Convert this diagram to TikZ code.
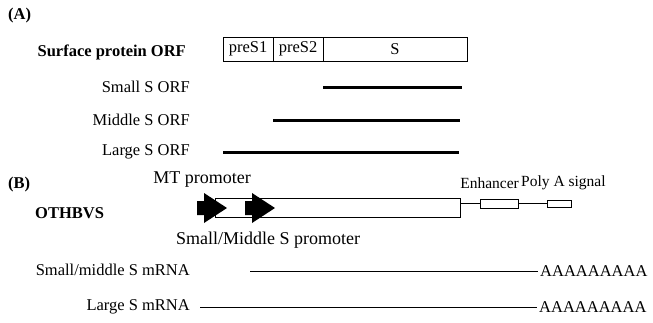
\documentclass[tikz,border=0pt]{standalone}
\usepackage{fontspec}
\setmainfont{Liberation Serif}
\usetikzlibrary{positioning}

\begin{document}
\begin{tikzpicture}[
  x=1pt, y=-1pt,
  font=\fontsize{16.5}{19}\selectfont,
  lbl/.style={inner sep=0pt, anchor=east},
  txt/.style={inner sep=0pt},
  big/.style={inner sep=0pt, font=\fontsize{18}{21}\selectfont},
  small/.style={inner sep=0pt, font=\fontsize{15.5}{18}\selectfont},
  head/.style={inner sep=0pt, anchor=west, font=\fontsize{16.5}{19}\selectfont\bfseries},
  seg/.style={draw, line width=0.9pt, inner sep=0pt, outer sep=0pt, minimum height=24pt},
  feat/.style={draw, line width=0.9pt, inner sep=0pt, outer sep=0pt, minimum height=9pt},
  orfbar/.style={line width=3pt},
  mrna/.style={line width=1pt, shorten >=2pt}
]
\useasboundingbox (0,0) rectangle (653,322);

% (A) surface protein ORFs
\node[head] (parta) at (8,16) {(A)};
\node[lbl, font=\fontsize{16.5}{19}\selectfont\bfseries] (surflbl) at (186,52) {Surface protein ORF};
\node[seg, minimum width=50pt, anchor=west] (pres1) at (223,49) {preS1};
\node[seg, minimum width=50pt, right=0pt of pres1] (pres2) {preS2};
\node[seg, minimum width=144pt, right=0pt of pres2] (sseg) {S};

\node[lbl] (smallorf)  at (190,87)  {Small S ORF};
\node[lbl] (middleorf) at (190,120) {Middle S ORF};
\node[lbl] (largeorf)  at (190,152) {Large S ORF};
\draw[orfbar] (sseg.west |- smallorf) -- ([xshift=-5pt]sseg.east |- smallorf);
\draw[orfbar] (pres2.west |- middleorf) -- ([xshift=-7pt]sseg.east |- middleorf);
\draw[orfbar] (pres1.west |- largeorf) -- ([xshift=-8pt]sseg.east |- largeorf);

% (B) OTHBVS construct
\node[head] (partb) at (8,185) {(B)};
\node[head] (othlbl) at (35,213) {OTHBVS};
\node[draw, line width=0.9pt, minimum width=245pt, minimum height=19pt,
  inner sep=0pt, outer sep=0pt, anchor=west] (construct) at (215,208) {};
\foreach \px in {197,245}
  \fill (\px,201) -- ++(7,0) -- ++(0,-8) -- ++(23,15) -- ++(-23,15)
    -- ++(0,-8) -- ++(-7,0) -- cycle;
\node[big] (mtlbl) at (202,180) {MT promoter};
\node[big] (smprolbl) at (268,240) {Small/Middle S promoter};

\node[feat, minimum width=38pt] (enh) at (499,203.5) {};
\node[feat, minimum width=24pt, minimum height=7pt] (polya) at (559,203.5) {};
\draw (construct.east |- enh) -- (enh);
\draw (enh) -- (polya);
\node[small, anchor=east] (enhlbl) at (519,183) {Enhancer};
\node[small, anchor=west] (polylbl) at (521,183) {Poly A signal};

% transcripts
\node[lbl] (smrnalbl) at (190,270) {Small/middle S mRNA};
\node[txt, anchor=west] (smrnatail) at (540,271) {AAAAAAAAA};
\coordinate (smrnastart) at (250,271);
\draw[mrna] (smrnastart) -- (smrnatail.west);

\node[lbl] (lmrnalbl) at (190,307) {Large S mRNA};
\node[txt, anchor=west] (lmrnatail) at (539,307) {AAAAAAAAA};
\coordinate (lmrnastart) at (200,307);
\draw[mrna] (lmrnastart) -- (lmrnatail.west);
\end{tikzpicture}
\end{document}
